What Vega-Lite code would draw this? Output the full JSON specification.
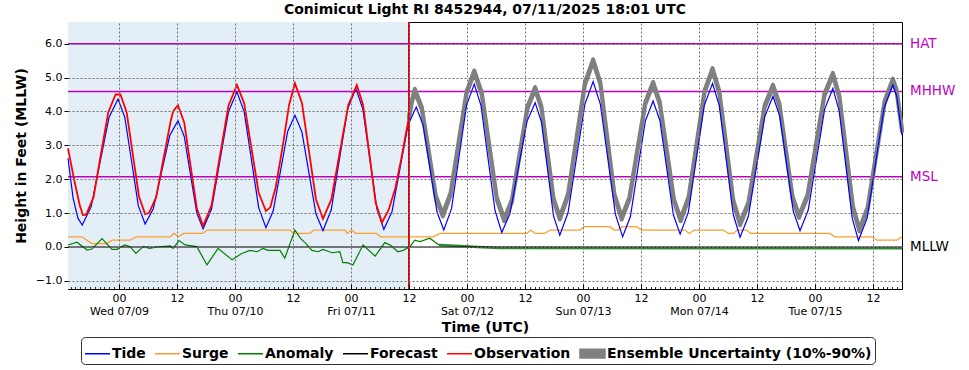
{
"$schema": "https://vega.github.io/schema/vega-lite/v6.json",
"width": 834, "height": 267,
"autosize": {"type": "none"},
"padding": {"left": 68, "top": 22, "right": 67, "bottom": 81},
"background": "white",
"title": {"text": "Conimicut Light RI 8452944, 07/11/2025 18:01 UTC", "fontSize": 14, "fontWeight": "bold", "font": "DejaVu Sans", "color": "black", "offset": 4},
"datasets": {
"tide": [
{"t":"2025-07-08T13:27Z","v":2.62},{"t":"2025-07-08T14:30Z","v":1.45},{"t":"2025-07-08T15:30Z","v":0.85},{"t":"2025-07-08T16:24Z","v":0.65},
{"t":"2025-07-08T18:15Z","v":1.19},{"t":"2025-07-08T20:06Z","v":2.51},{"t":"2025-07-08T21:57Z","v":3.83},{"t":"2025-07-08T23:48Z","v":4.37},
{"t":"2025-07-09T01:12Z","v":3.83},{"t":"2025-07-09T02:36Z","v":2.53},{"t":"2025-07-09T04:00Z","v":1.22},{"t":"2025-07-09T05:24Z","v":0.68},
{"t":"2025-07-09T07:06Z","v":1.13},{"t":"2025-07-09T08:48Z","v":2.21},{"t":"2025-07-09T10:30Z","v":3.29},{"t":"2025-07-09T12:12Z","v":3.73},
{"t":"2025-07-09T13:30Z","v":3.26},{"t":"2025-07-09T14:48Z","v":2.13},{"t":"2025-07-09T16:06Z","v":1.0},{"t":"2025-07-09T17:24Z","v":0.53},
{"t":"2025-07-09T19:09Z","v":1.12},{"t":"2025-07-09T20:54Z","v":2.56},{"t":"2025-07-09T22:39Z","v":3.99},{"t":"2025-07-10T00:24Z","v":4.58},
{"t":"2025-07-10T01:54Z","v":3.99},{"t":"2025-07-10T03:24Z","v":2.58},{"t":"2025-07-10T04:54Z","v":1.16},{"t":"2025-07-10T06:24Z","v":0.57},
{"t":"2025-07-10T07:54Z","v":1.06},{"t":"2025-07-10T09:24Z","v":2.23},{"t":"2025-07-10T10:54Z","v":3.41},{"t":"2025-07-10T12:24Z","v":3.89},
{"t":"2025-07-10T13:51Z","v":3.39},{"t":"2025-07-10T15:18Z","v":2.19},{"t":"2025-07-10T16:45Z","v":0.98},{"t":"2025-07-10T18:12Z","v":0.48},
{"t":"2025-07-10T19:54Z","v":1.09},{"t":"2025-07-10T21:36Z","v":2.58},{"t":"2025-07-10T23:18Z","v":4.07},{"t":"2025-07-11T01:00Z","v":4.68},
{"t":"2025-07-11T02:27Z","v":4.07},{"t":"2025-07-11T03:54Z","v":2.6},{"t":"2025-07-11T05:21Z","v":1.13},{"t":"2025-07-11T06:48Z","v":0.52},
{"t":"2025-07-11T08:30Z","v":1.05},{"t":"2025-07-11T10:09Z","v":2.33},{"t":"2025-07-11T11:48Z","v":3.6},{"t":"2025-07-11T13:30Z","v":4.13},
{"t":"2025-07-11T14:54Z","v":3.6},{"t":"2025-07-11T16:21Z","v":2.32},{"t":"2025-07-11T17:48Z","v":1.03},{"t":"2025-07-11T19:12Z","v":0.5},
{"t":"2025-07-11T20:48Z","v":1.13},{"t":"2025-07-11T22:21Z","v":2.66},{"t":"2025-07-11T23:54Z","v":4.18},{"t":"2025-07-12T01:30Z","v":4.81},
{"t":"2025-07-12T02:54Z","v":4.17},{"t":"2025-07-12T04:21Z","v":2.62},{"t":"2025-07-12T05:48Z","v":1.07},{"t":"2025-07-12T07:12Z","v":0.43},
{"t":"2025-07-12T08:54Z","v":0.99},{"t":"2025-07-12T10:39Z","v":2.35},{"t":"2025-07-12T12:24Z","v":3.7},{"t":"2025-07-12T14:06Z","v":4.26},
{"t":"2025-07-12T15:24Z","v":3.69},{"t":"2025-07-12T16:39Z","v":2.31},{"t":"2025-07-12T17:54Z","v":0.92},{"t":"2025-07-12T19:12Z","v":0.35},
{"t":"2025-07-12T20:54Z","v":1.01},{"t":"2025-07-12T22:39Z","v":2.62},{"t":"2025-07-13T00:24Z","v":4.22},{"t":"2025-07-13T02:06Z","v":4.88},
{"t":"2025-07-13T03:36Z","v":4.21},{"t":"2025-07-13T05:09Z","v":2.59},{"t":"2025-07-13T06:42Z","v":0.97},{"t":"2025-07-13T08:12Z","v":0.3},
{"t":"2025-07-13T09:48Z","v":0.89},{"t":"2025-07-13T11:21Z","v":2.31},{"t":"2025-07-13T12:54Z","v":3.72},{"t":"2025-07-13T14:30Z","v":4.31},
{"t":"2025-07-13T15:54Z","v":3.74},{"t":"2025-07-13T17:18Z","v":2.35},{"t":"2025-07-13T18:42Z","v":0.95},{"t":"2025-07-13T20:06Z","v":0.38},
{"t":"2025-07-13T21:48Z","v":1.03},{"t":"2025-07-13T23:27Z","v":2.61},{"t":"2025-07-14T01:06Z","v":4.18},{"t":"2025-07-14T02:48Z","v":4.83},
{"t":"2025-07-14T04:12Z","v":4.17},{"t":"2025-07-14T05:39Z","v":2.56},{"t":"2025-07-14T07:06Z","v":0.95},{"t":"2025-07-14T08:30Z","v":0.29},
{"t":"2025-07-14T10:12Z","v":0.9},{"t":"2025-07-14T11:54Z","v":2.37},{"t":"2025-07-14T13:36Z","v":3.84},{"t":"2025-07-14T15:18Z","v":4.45},
{"t":"2025-07-14T16:42Z","v":3.87},{"t":"2025-07-14T18:06Z","v":2.47},{"t":"2025-07-14T19:30Z","v":1.06},{"t":"2025-07-14T20:54Z","v":0.48},
{"t":"2025-07-14T22:36Z","v":1.09},{"t":"2025-07-15T00:18Z","v":2.58},{"t":"2025-07-15T02:00Z","v":4.07},{"t":"2025-07-15T03:42Z","v":4.68},
{"t":"2025-07-15T05:00Z","v":4.02},{"t":"2025-07-15T06:21Z","v":2.44},{"t":"2025-07-15T07:42Z","v":0.85},{"t":"2025-07-15T09:00Z","v":0.19},
{"t":"2025-07-15T10:48Z","v":0.86},{"t":"2025-07-15T12:33Z","v":2.49},{"t":"2025-07-15T14:18Z","v":4.11},{"t":"2025-07-15T16:06Z","v":4.78},
{"t":"2025-07-15T16:54Z","v":4.45},{"t":"2025-07-15T18:00Z","v":3.3}
],
"obs": [
{"t":"2025-07-08T13:27Z","v":2.91},{"t":"2025-07-08T14:42Z","v":2.0},{"t":"2025-07-08T15:54Z","v":1.22},{"t":"2025-07-08T16:33Z","v":0.94},
{"t":"2025-07-08T17:12Z","v":0.95},{"t":"2025-07-08T18:44Z","v":1.47},{"t":"2025-07-08T20:15Z","v":2.73},{"t":"2025-07-08T21:47Z","v":3.98},
{"t":"2025-07-08T23:18Z","v":4.5},{"t":"2025-07-09T00:18Z","v":4.5},{"t":"2025-07-09T01:35Z","v":3.98},{"t":"2025-07-09T02:51Z","v":2.74},
{"t":"2025-07-09T04:08Z","v":1.49},{"t":"2025-07-09T05:24Z","v":0.97},{"t":"2025-07-09T06:12Z","v":1.0},{"t":"2025-07-09T07:42Z","v":1.47},
{"t":"2025-07-09T09:12Z","v":2.6},{"t":"2025-07-09T10:42Z","v":3.72},{"t":"2025-07-09T11:12Z","v":4.0},{"t":"2025-07-09T12:12Z","v":4.19},
{"t":"2025-07-09T13:30Z","v":3.67},{"t":"2025-07-09T14:48Z","v":2.4},{"t":"2025-07-09T16:06Z","v":1.14},{"t":"2025-07-09T17:24Z","v":0.62},
{"t":"2025-07-09T19:09Z","v":1.23},{"t":"2025-07-09T20:54Z","v":2.7},{"t":"2025-07-09T22:39Z","v":4.17},{"t":"2025-07-10T00:24Z","v":4.78},
{"t":"2025-07-10T01:54Z","v":4.24},{"t":"2025-07-10T03:24Z","v":2.92},{"t":"2025-07-10T04:54Z","v":1.6},{"t":"2025-07-10T06:24Z","v":1.06},
{"t":"2025-07-10T07:18Z","v":1.17},{"t":"2025-07-10T08:24Z","v":1.75},{"t":"2025-07-10T09:54Z","v":3.0},{"t":"2025-07-10T11:12Z","v":4.2},
{"t":"2025-07-10T12:24Z","v":4.83},{"t":"2025-07-10T13:51Z","v":4.25},{"t":"2025-07-10T15:18Z","v":2.83},{"t":"2025-07-10T16:45Z","v":1.41},
{"t":"2025-07-10T18:12Z","v":0.83},{"t":"2025-07-10T19:57Z","v":1.41},{"t":"2025-07-10T21:42Z","v":2.81},{"t":"2025-07-10T23:27Z","v":4.2},
{"t":"2025-07-11T01:12Z","v":4.78},{"t":"2025-07-11T02:30Z","v":4.19},{"t":"2025-07-11T03:48Z","v":2.75},{"t":"2025-07-11T05:06Z","v":1.31},
{"t":"2025-07-11T06:24Z","v":0.72},{"t":"2025-07-11T07:48Z","v":1.1},{"t":"2025-07-11T09:12Z","v":1.75},{"t":"2025-07-11T10:24Z","v":2.6},
{"t":"2025-07-11T11:18Z","v":3.3},{"t":"2025-07-11T12:00Z","v":3.83}
],
"fc": [
{"t":"2025-07-11T12:00Z","v":3.83,"lo":3.79,"hi":3.87},{"t":"2025-07-11T12:36Z","v":4.3,"lo":4.26,"hi":4.34},{"t":"2025-07-11T13:12Z","v":4.63,"lo":4.59,"hi":4.67},
{"t":"2025-07-11T14:39Z","v":4.09,"lo":4.05,"hi":4.13},{"t":"2025-07-11T16:06Z","v":2.79,"lo":2.75,"hi":2.83},{"t":"2025-07-11T17:33Z","v":1.48,"lo":1.44,"hi":1.52},
{"t":"2025-07-11T19:00Z","v":0.94,"lo":0.9,"hi":0.98},{"t":"2025-07-11T20:36Z","v":1.56,"lo":1.52,"hi":1.6},{"t":"2025-07-11T22:15Z","v":3.06,"lo":3.02,"hi":3.1},
{"t":"2025-07-11T23:54Z","v":4.55,"lo":4.51,"hi":4.59},{"t":"2025-07-12T01:30Z","v":5.17,"lo":5.13,"hi":5.21},{"t":"2025-07-12T03:03Z","v":4.53,"lo":4.49,"hi":4.57},
{"t":"2025-07-12T04:36Z","v":2.99,"lo":2.95,"hi":3.03},{"t":"2025-07-12T06:09Z","v":1.44,"lo":1.4,"hi":1.48},{"t":"2025-07-12T07:42Z","v":0.8,"lo":0.76,"hi":0.84},
{"t":"2025-07-12T09:18Z","v":1.37,"lo":1.33,"hi":1.41},{"t":"2025-07-12T10:54Z","v":2.74,"lo":2.7,"hi":2.78},{"t":"2025-07-12T12:30Z","v":4.11,"lo":4.07,"hi":4.15},
{"t":"2025-07-12T14:06Z","v":4.68,"lo":4.64,"hi":4.72},{"t":"2025-07-12T15:24Z","v":4.12,"lo":4.08,"hi":4.16},{"t":"2025-07-12T16:39Z","v":2.77,"lo":2.73,"hi":2.81},
{"t":"2025-07-12T17:54Z","v":1.41,"lo":1.37,"hi":1.45},{"t":"2025-07-12T19:12Z","v":0.85,"lo":0.81,"hi":0.89},{"t":"2025-07-12T20:54Z","v":1.53,"lo":1.49,"hi":1.57},
{"t":"2025-07-12T22:39Z","v":3.18,"lo":3.14,"hi":3.22},{"t":"2025-07-13T00:24Z","v":4.82,"lo":4.78,"hi":4.86},{"t":"2025-07-13T02:06Z","v":5.5,"lo":5.46,"hi":5.54},
{"t":"2025-07-13T03:36Z","v":4.82,"lo":4.78,"hi":4.86},{"t":"2025-07-13T05:03Z","v":3.18,"lo":3.14,"hi":3.22},{"t":"2025-07-13T06:30Z","v":1.53,"lo":1.49,"hi":1.57},
{"t":"2025-07-13T08:00Z","v":0.85,"lo":0.81,"hi":0.89},{"t":"2025-07-13T09:36Z","v":1.43,"lo":1.39,"hi":1.47},{"t":"2025-07-13T11:15Z","v":2.84,"lo":2.8,"hi":2.88},
{"t":"2025-07-13T12:54Z","v":4.25,"lo":4.21,"hi":4.29},{"t":"2025-07-13T14:30Z","v":4.83,"lo":4.79,"hi":4.87},{"t":"2025-07-13T15:54Z","v":4.24,"lo":4.2,"hi":4.28},
{"t":"2025-07-13T17:21Z","v":2.82,"lo":2.78,"hi":2.86},{"t":"2025-07-13T18:48Z","v":1.39,"lo":1.35,"hi":1.43},{"t":"2025-07-13T20:12Z","v":0.8,"lo":0.76,"hi":0.84},
{"t":"2025-07-13T21:51Z","v":1.45,"lo":1.41,"hi":1.49},{"t":"2025-07-13T23:30Z","v":3.02,"lo":2.98,"hi":3.06},{"t":"2025-07-14T01:09Z","v":4.59,"lo":4.55,"hi":4.63},
{"t":"2025-07-14T02:48Z","v":5.24,"lo":5.2,"hi":5.28},{"t":"2025-07-14T04:12Z","v":4.57,"lo":4.53,"hi":4.61},{"t":"2025-07-14T05:39Z","v":2.96,"lo":2.92,"hi":3.0},
{"t":"2025-07-14T07:06Z","v":1.35,"lo":1.31,"hi":1.39},{"t":"2025-07-14T08:30Z","v":0.68,"lo":0.64,"hi":0.72},{"t":"2025-07-14T10:12Z","v":1.27,"lo":1.23,"hi":1.31},
{"t":"2025-07-14T11:54Z","v":2.72,"lo":2.68,"hi":2.76},{"t":"2025-07-14T13:36Z","v":4.16,"lo":4.12,"hi":4.2},{"t":"2025-07-14T15:18Z","v":4.75,"lo":4.71,"hi":4.79},
{"t":"2025-07-14T16:39Z","v":4.19,"lo":4.15,"hi":4.23},{"t":"2025-07-14T18:00Z","v":2.83,"lo":2.79,"hi":2.87},{"t":"2025-07-14T19:21Z","v":1.46,"lo":1.42,"hi":1.5},
{"t":"2025-07-14T20:42Z","v":0.9,"lo":0.86,"hi":0.94},{"t":"2025-07-14T22:27Z","v":1.51,"lo":1.47,"hi":1.55},{"t":"2025-07-15T00:12Z","v":3.0,"lo":2.96,"hi":3.04},
{"t":"2025-07-15T01:57Z","v":4.49,"lo":4.45,"hi":4.53},{"t":"2025-07-15T03:42Z","v":5.1,"lo":5.06,"hi":5.14},{"t":"2025-07-15T05:03Z","v":4.43,"lo":4.39,"hi":4.47},
{"t":"2025-07-15T06:27Z","v":2.8,"lo":2.76,"hi":2.84},{"t":"2025-07-15T07:51Z","v":1.17,"lo":1.13,"hi":1.21},{"t":"2025-07-15T09:12Z","v":0.5,"lo":0.46,"hi":0.54},
{"t":"2025-07-15T10:54Z","v":1.15,"lo":1.11,"hi":1.19},{"t":"2025-07-15T12:39Z","v":2.72,"lo":2.68,"hi":2.76},{"t":"2025-07-15T14:24Z","v":4.28,"lo":4.24,"hi":4.32},
{"t":"2025-07-15T16:06Z","v":4.93,"lo":4.89,"hi":4.97},{"t":"2025-07-15T16:54Z","v":4.6,"lo":4.56,"hi":4.64},{"t":"2025-07-15T18:00Z","v":3.45,"lo":3.41,"hi":3.49}
],
"surge": [
{"t":"2025-07-08T13:27Z","v":0.3},{"t":"2025-07-08T16:18Z","v":0.3},{"t":"2025-07-08T18:24Z","v":0.1},{"t":"2025-07-08T21:30Z","v":0.1},
{"t":"2025-07-08T22:30Z","v":0.2},{"t":"2025-07-09T02:18Z","v":0.2},{"t":"2025-07-09T03:30Z","v":0.3},{"t":"2025-07-09T10:36Z","v":0.3},
{"t":"2025-07-09T11:24Z","v":0.4},{"t":"2025-07-09T12:18Z","v":0.3},{"t":"2025-07-09T13:24Z","v":0.4},{"t":"2025-07-09T17:18Z","v":0.4},
{"t":"2025-07-09T18:18Z","v":0.5},{"t":"2025-07-10T11:24Z","v":0.5},{"t":"2025-07-10T12:06Z","v":0.4},{"t":"2025-07-10T15:30Z","v":0.4},
{"t":"2025-07-10T16:18Z","v":0.5},{"t":"2025-07-10T22:48Z","v":0.5},{"t":"2025-07-10T23:12Z","v":0.4},{"t":"2025-07-11T00:06Z","v":0.5},
{"t":"2025-07-11T01:00Z","v":0.4},{"t":"2025-07-11T05:18Z","v":0.4},{"t":"2025-07-11T06:06Z","v":0.3},{"t":"2025-07-11T17:00Z","v":0.3},
{"t":"2025-07-11T18:24Z","v":0.4},{"t":"2025-07-12T12:24Z","v":0.4},{"t":"2025-07-12T13:12Z","v":0.5},{"t":"2025-07-12T14:06Z","v":0.4},
{"t":"2025-07-12T16:06Z","v":0.4},{"t":"2025-07-12T17:12Z","v":0.5},{"t":"2025-07-12T23:24Z","v":0.5},{"t":"2025-07-13T00:12Z","v":0.6},
{"t":"2025-07-13T05:36Z","v":0.6},{"t":"2025-07-13T06:24Z","v":0.5},{"t":"2025-07-13T07:18Z","v":0.5},{"t":"2025-07-13T08:06Z","v":0.6},
{"t":"2025-07-13T11:06Z","v":0.6},{"t":"2025-07-13T12:06Z","v":0.5},{"t":"2025-07-13T21:06Z","v":0.5},{"t":"2025-07-13T22:00Z","v":0.4},
{"t":"2025-07-13T23:00Z","v":0.5},{"t":"2025-07-14T05:00Z","v":0.5},{"t":"2025-07-14T06:06Z","v":0.4},{"t":"2025-07-14T07:06Z","v":0.4},
{"t":"2025-07-14T07:54Z","v":0.5},{"t":"2025-07-14T09:54Z","v":0.5},{"t":"2025-07-14T10:42Z","v":0.4},{"t":"2025-07-15T03:06Z","v":0.4},
{"t":"2025-07-15T04:06Z","v":0.3},{"t":"2025-07-15T11:42Z","v":0.3},{"t":"2025-07-15T12:48Z","v":0.2},{"t":"2025-07-15T16:54Z","v":0.2},
{"t":"2025-07-15T18:00Z","v":0.3}
],
"anom": [
{"t":"2025-07-08T13:27Z","v":0.06},{"t":"2025-07-08T15:18Z","v":0.14},{"t":"2025-07-08T17:24Z","v":-0.09},{"t":"2025-07-08T18:24Z","v":-0.06},
{"t":"2025-07-08T20:30Z","v":0.25},{"t":"2025-07-08T22:33Z","v":-0.07},{"t":"2025-07-08T23:36Z","v":-0.07},{"t":"2025-07-09T01:12Z","v":0.06},
{"t":"2025-07-09T02:18Z","v":0.01},{"t":"2025-07-09T03:30Z","v":-0.19},{"t":"2025-07-09T05:00Z","v":0.01},{"t":"2025-07-09T06:24Z","v":-0.04},
{"t":"2025-07-09T07:54Z","v":0.0},{"t":"2025-07-09T10:36Z","v":0.03},{"t":"2025-07-09T11:12Z","v":-0.04},{"t":"2025-07-09T12:24Z","v":0.19},
{"t":"2025-07-09T13:42Z","v":0.06},{"t":"2025-07-09T16:06Z","v":0.01},{"t":"2025-07-09T18:12Z","v":-0.53},{"t":"2025-07-09T20:30Z","v":-0.04},
{"t":"2025-07-09T23:24Z","v":-0.38},{"t":"2025-07-10T01:24Z","v":-0.19},{"t":"2025-07-10T03:06Z","v":-0.1},{"t":"2025-07-10T04:36Z","v":-0.14},
{"t":"2025-07-10T05:48Z","v":-0.04},{"t":"2025-07-10T06:48Z","v":-0.1},{"t":"2025-07-10T09:18Z","v":-0.1},{"t":"2025-07-10T10:18Z","v":-0.33},
{"t":"2025-07-10T12:24Z","v":0.5},{"t":"2025-07-10T13:30Z","v":0.26},{"t":"2025-07-10T14:42Z","v":0.1},{"t":"2025-07-10T15:54Z","v":-0.1},
{"t":"2025-07-10T17:12Z","v":-0.14},{"t":"2025-07-10T18:12Z","v":-0.07},{"t":"2025-07-10T20:06Z","v":-0.17},{"t":"2025-07-10T21:42Z","v":-0.14},
{"t":"2025-07-10T22:18Z","v":-0.46},{"t":"2025-07-10T23:12Z","v":-0.46},{"t":"2025-07-11T00:24Z","v":-0.53},{"t":"2025-07-11T02:30Z","v":0.06},
{"t":"2025-07-11T05:00Z","v":-0.27},{"t":"2025-07-11T07:00Z","v":0.13},{"t":"2025-07-11T08:06Z","v":0.06},{"t":"2025-07-11T09:42Z","v":-0.14},
{"t":"2025-07-11T10:48Z","v":-0.1},{"t":"2025-07-11T12:12Z","v":0.01},{"t":"2025-07-11T13:12Z","v":0.2},{"t":"2025-07-11T14:18Z","v":0.16},
{"t":"2025-07-11T16:18Z","v":0.26},{"t":"2025-07-11T18:12Z","v":0.06}
],
"anomfc": [
{"t":"2025-07-11T18:12Z","v":0.06},{"t":"2025-07-11T22:36Z","v":0.03},{"t":"2025-07-12T02:06Z","v":0.0},{"t":"2025-07-12T06:48Z","v":-0.03},
{"t":"2025-07-15T18:00Z","v":-0.04}
],
"period": [
{"a":"2025-07-08T13:27Z","b":"2025-07-11T12:00Z"}
],
"datums": [
{"lab":"HAT","y":6.0,"t":"2025-07-15T18:00Z"},{"lab":"MHHW","y":4.59,"t":"2025-07-15T18:00Z"},{"lab":"MSL","y":2.07,"t":"2025-07-15T18:00Z"},{"lab":"MLLW","y":0,"t":"2025-07-15T18:00Z"}
],
"legend": [
{"s":"Tide"},{"s":"Surge"},{"s":"Anomaly"},{"s":"Forecast"},{"s":"Observation"},{"s":"Ensemble Uncertainty (10%-90%)"}
]
},
"resolve": {"axis": {"x": "independent"}},
"layer": [
{
"data": {"name": "period"},
"mark": {"type": "rect", "color": "#e3eef6"},
"encoding": {
"x": {"field": "a", "type": "temporal",
"scale": {"type": "utc", "nice": false},
"axis": {"orient": "bottom", "tickCount": 14,
"labelExpr": "utchours(datum.value) == 0 ? ['00', utcFormat(datum.value, '%a %m/%d')] : '12'",
"labelFont": "DejaVu Sans", "labelFontSize": 11, "labelColor": "black", "labelPadding": 3, "labelBaseline": "top", "labelLineHeight": 13,
"labelFlush": false, "labelOverlap": false, "ticks": true, "tickSize": 0, "domain": false,
"grid": true, "gridColor": "#707070", "gridDash": [2, 2], "gridWidth": 1,
"title": "Time (UTC)", "titleFont": "DejaVu Sans", "titleFontSize": 14, "titleFontWeight": "bold", "titleColor": "black", "titlePadding": 4, "zindex": 1}},
"x2": {"field": "b"}
}
},
{
"data": {"name": "datums"},
"transform": [{"filter": "datum.lab != 'MLLW'"}],
"mark": {"type": "rule", "color": "#c000c0", "strokeWidth": 1.5},
"encoding": {
"y": {"field": "y", "type": "quantitative", "scale": {"domain": [-1.24, 6.64], "nice": false, "zero": false},
"axis": {"values": [-1, 0, 1, 2, 3, 4, 5, 6], "tickCount": 12, "labelOverlap": false, "title": "Height in Feet (MLLW)", "titleFont": "DejaVu Sans", "titleFontSize": 14, "titleFontWeight": "bold", "titleColor": "black", "titlePadding": 7,
"labelFont": "DejaVu Sans", "labelFontSize": 11, "labelColor": "black", "labelPadding": 2, "tickSize": 4, "tickColor": "black", "domain": false,
"grid": true, "gridColor": "#707070", "gridDash": [2, 2], "gridWidth": 1, "zindex": 1}}
}
},
{
"data": {"name": "surge"},
"mark": {"type": "line", "color": "#ff9d2e", "strokeWidth": 1.3},
"encoding": {
"x": {"field": "t", "type": "temporal", "axis": {"orient": "bottom", "tickCount": 14, "labels": false, "grid": false, "domain": false, "ticks": true, "tickSize": -5, "tickColor": "black", "tickWidth": 1, "title": null, "zindex": 1}},
"y": {"field": "v", "type": "quantitative"}}
},
{
"data": {"name": "anom"},
"mark": {"type": "line", "color": "#008000", "strokeWidth": 1.2},
"encoding": {"x": {"field": "t", "type": "temporal", "axis": null}, "y": {"field": "v", "type": "quantitative"}}
},
{
"data": {"name": "anomfc"},
"mark": {"type": "line", "color": "#2a8a2a", "strokeWidth": 2.4},
"encoding": {"x": {"field": "t", "type": "temporal", "axis": null}, "y": {"field": "v", "type": "quantitative"}}
},
{
"data": {"name": "datums"},
"transform": [{"filter": "datum.lab == 'MLLW'"}],
"mark": {"type": "rule", "color": "black", "strokeWidth": 1.2},
"encoding": {"y": {"field": "y", "type": "quantitative"}}
},
{
"data": {"name": "fc"},
"mark": {"type": "line", "color": "black", "strokeWidth": 1},
"encoding": {"x": {"field": "t", "type": "temporal", "axis": null}, "y": {"field": "v", "type": "quantitative"}}
},
{
"data": {"name": "fc"},
"mark": {"type": "area", "fill": "#8c8c8c", "stroke": "#808080", "strokeWidth": 4, "strokeJoin": "round"},
"encoding": {"x": {"field": "t", "type": "temporal", "axis": null}, "y": {"field": "hi", "type": "quantitative"}, "y2": {"field": "lo"}}
},
{
"data": {"name": "tide"},
"mark": {"type": "line", "color": "#0000ff", "strokeWidth": 1.2},
"encoding": {
"x": {"field": "t", "type": "temporal", "axis": {"orient": "bottom", "tickCount": 172, "labels": false, "grid": false, "domain": false, "ticks": true, "tickSize": -2.5, "tickColor": "black", "tickWidth": 0.8, "title": null, "zindex": 1}},
"y": {"field": "v", "type": "quantitative"}}
},
{
"data": {"name": "obs"},
"mark": {"type": "line", "color": "#ff0000", "strokeWidth": 1.8},
"encoding": {"x": {"field": "t", "type": "temporal", "axis": null}, "y": {"field": "v", "type": "quantitative"}}
},
{
"data": {"name": "period"},
"mark": {"type": "rule", "color": "#e00000", "strokeWidth": 2},
"encoding": {"x": {"field": "b", "type": "temporal", "axis": null}}
},
{
"data": {"name": "datums"},
"mark": {"type": "text", "align": "left", "baseline": "middle", "dx": 8, "font": "DejaVu Sans", "fontSize": 13.5},
"encoding": {
"x": {"field": "t", "type": "temporal", "axis": null},
"y": {"field": "y", "type": "quantitative"},
"text": {"field": "lab"},
"color": {"condition": {"test": "datum.lab == 'MLLW'", "value": "black"}, "value": "#c000c0"}
}
},
{
"data": {"name": "legend"},
"transform": [{"filter": "false"}],
"mark": {"type": "point", "filled": true, "opacity": 1},
"encoding": {
"color": {"field": "s", "type": "nominal",
"scale": {"domain": ["Tide", "Surge", "Anomaly", "Forecast", "Observation", "Ensemble Uncertainty (10%-90%)"], "range": ["#0000ff", "#ff9d2e", "#008000", "#000000", "#ff0000", "#808080"]},
"legend": {"title": null, "orient": "none", "legendX": 13, "legendY": 315, "direction": "horizontal"}},
"stroke": {"field": "s", "type": "nominal",
"scale": {"domain": ["Tide", "Surge", "Anomaly", "Forecast", "Observation", "Ensemble Uncertainty (10%-90%)"], "range": ["#0000ff", "#ff9d2e", "#008000", "#000000", "#ff0000", "#808080"]},
"legend": {"title": null, "orient": "none", "legendX": 13, "legendY": 315, "direction": "horizontal"}},
"shape": {"field": "s", "type": "nominal",
"scale": {"domain": ["Tide", "Surge", "Anomaly", "Forecast", "Observation", "Ensemble Uncertainty (10%-90%)"], "range": ["stroke", "stroke", "stroke", "stroke", "stroke", "M-1,-0.35H1V0.35H-1Z"]},
"legend": {"title": null, "orient": "none", "legendX": 13, "legendY": 315, "direction": "horizontal"}}
}
}
],
"config": {
"view": {"stroke": "black", "strokeWidth": 1},
"font": "DejaVu Sans",
"axis": {"labelOverlap": false},
"axisY": {"labelOverlap": false, "tickCount": 12},
"legend": {"strokeColor": "#333333", "fillColor": "white", "cornerRadius": 4, "padding": 3,
"labelFont": "DejaVu Sans", "labelFontSize": 14, "labelFontWeight": "bold", "labelColor": "black",
"symbolSize": 625, "symbolStrokeWidth": 1.5, "labelOffset": 1, "columnPadding": 6, "symbolOpacity": 1, "labelLimit": 400}
}
}
